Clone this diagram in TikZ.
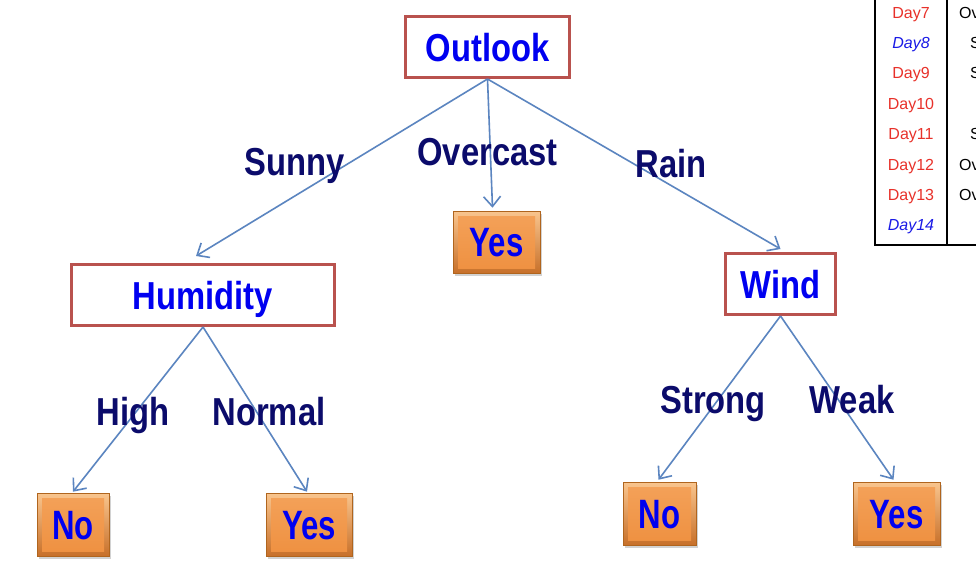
\documentclass[tikz,border=0pt]{standalone}
\usepackage{fontspec}
\setmainfont{Liberation Sans}
\newfontfamily\condb{Liberation Sans}[FakeStretch=0.84]
\newfontfamily\condc{Liberation Sans}[FakeStretch=0.76]
\usetikzlibrary{arrows.meta,shadows}
\definecolor{boxred}{HTML}{B9524E}
\definecolor{nodeblue}{HTML}{0000F0}
\definecolor{navy}{HTML}{0B0B6B}
\definecolor{edgeblue}{HTML}{5B85C0}
\definecolor{dayred}{HTML}{E8312A}
\definecolor{dayblue}{HTML}{1A1AE6}
\definecolor{orOutTop}{HTML}{F9C58E}
\definecolor{orOutBot}{HTML}{C7702A}
\definecolor{orInTop}{HTML}{F4A25A}
\definecolor{orInBot}{HTML}{EE9040}
\definecolor{leafedge}{HTML}{B0651E}
\begin{document}
\begin{tikzpicture}[x=1pt,y=-1pt,
  attr/.style={draw=boxred, line width=3pt, fill=white, inner sep=0pt,
    text=nodeblue, font=\condb\bfseries\fontsize{39}{39}\selectfont,
    text height=28pt, text depth=0pt, minimum height=61pt},
  leaf/.style={draw=leafedge, line width=0.6pt, top color=orOutTop, bottom color=orOutBot,
    inner sep=0pt, text=nodeblue, font=\condc\bfseries\fontsize{41}{41}\selectfont,
    text height=29pt, text depth=0pt, minimum height=63pt,
    drop shadow={opacity=0.35, shadow xshift=1.5pt, shadow yshift=-2.5pt},
    path picture={\fill[top color=orInTop, bottom color=orInBot]
      ([xshift=5pt,yshift=-5pt]path picture bounding box.north west) rectangle
      ([xshift=-5pt,yshift=5pt]path picture bounding box.south east);}},
  lab/.style={text=navy, font=\condb\bfseries\fontsize{39}{39}\selectfont, anchor=base, inner sep=0pt},
  conn/.style={draw=edgeblue, line width=1.6pt,
    -{Straight Barb[length=10pt,width=17pt,line width=1.6pt]}},
  day/.style={font=\fontsize{16}{16}\selectfont, anchor=base, inner sep=0pt},
  cell/.style={font=\fontsize{16}{16}\selectfont, anchor=base west, inner sep=0pt}
]
\useasboundingbox[fill=white] (0,0) rectangle (976,582);

% table (clipped at right edge)
\begin{scope}
\clip (0,0) rectangle (976,582);
\draw[line width=1.8pt] (875,0) -- (875,245) -- (976,245);
\draw[line width=1.2pt] (947,0) -- (947,245);
\node[day, text=dayred] (d7) at (911,18) {Day7};
\node[day, text=dayblue, font=\itshape\fontsize{16}{16}\selectfont] (d8) at (911,48.4) {Day8};
\node[day, text=dayred] (d9) at (911,78.8) {Day9};
\node[day, text=dayred] (d10) at (911,109.2) {Day10};
\node[day, text=dayred] (d11) at (911,139.6) {Day11};
\node[day, text=dayred] (d12) at (911,170) {Day12};
\node[day, text=dayred] (d13) at (911,200.4) {Day13};
\node[day, text=dayblue, font=\itshape\fontsize{16}{16}\selectfont] (d14) at (911,230.8) {Day14};
\node[cell] (c7) at (959,18) {Ov};
\node[cell] (c8) at (970,48.4) {S};
\node[cell] (c9) at (970,78.8) {S};
\node[cell] (c11) at (970,139.6) {S};
\node[cell] (c12) at (959,170) {Ov};
\node[cell] (c13) at (959,200.4) {Ov};
\end{scope}

% attribute nodes
\node[attr, minimum width=164pt] (outlook) at (487.5,47) {Outlook};
\node[attr, minimum width=263pt] (humidity) at (203,295) {Humidity};
\node[attr, minimum width=110pt] (wind) at (780.5,284) {Wind};

% leaves
\node[leaf, minimum width=87pt, minimum height=62pt] (yes1) at (496.5,242) {Yes};
\node[leaf, minimum width=72pt] (no1) at (73,524.5) {No};
\node[leaf, minimum width=86pt] (yes2) at (309,524.5) {Yes};
\node[leaf, minimum width=73pt] (no2) at (659.5,513.5) {No};
\node[leaf, minimum width=87pt] (yes3) at (896.5,513.5) {Yes};

% connectors
\draw[conn] (outlook.south) -- ([xshift=-7pt,yshift=7pt]humidity.north);
\draw[conn] (outlook.south) -- ([xshift=-4pt,yshift=3pt]yes1.north);
\draw[conn] (outlook.south) -- ([yshift=3pt]wind.north);
\draw[conn] (humidity.south) -- ([yshift=1pt]no1.north);
\draw[conn] (humidity.south) -- ([xshift=-2pt,yshift=1pt]yes2.north);
\draw[conn] (wind.south) -- ([xshift=-1pt,yshift=2pt]no2.north);
\draw[conn] (wind.south) -- ([xshift=-3pt,yshift=2pt]yes3.north);

% branch labels
\node[lab] (sunny) at (295,175) {Sunny};
\node[lab] (overcast) at (487.5,165) {Overcast};
\node[lab] (rain) at (671,177) {Rain};
\node[lab] (high) at (133,425) {High};
\node[lab] (normal) at (269,425) {Normal};
\node[lab] (strong) at (713,413) {Strong};
\node[lab] (weak) at (852,413) {Weak};
\end{tikzpicture}
\end{document}
